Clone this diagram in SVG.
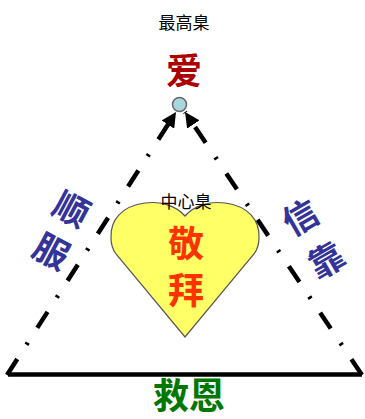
<svg xmlns="http://www.w3.org/2000/svg" width="365" height="419" viewBox="0 0 365 419">
  <style>
    .cjk { font-family: "Noto Sans CJK SC", "Noto Sans", sans-serif; text-anchor: middle; }
    .small { font-size: 17px; fill: #000000; }
    .big { font-size: 36px; font-weight: bold; }
    .side { font-size: 35px; font-weight: bold; fill: #333399; }
    .edge { fill: none; stroke: #000000; stroke-width: 4.5; stroke-dasharray: 19 17 2.5 17.5; }
  </style>
  <defs>
    <marker id="arrow" viewBox="0 0 10 10" refX="10" refY="5" markerWidth="15" markerHeight="15" markerUnits="userSpaceOnUse" orient="auto">
      <path d="M0,0 L10,5 L0,10 Z" fill="#000000"/>
    </marker>
  </defs>

  <g id="connectors">
    <path class="edge" d="M7,375 L176,112" marker-end="url(#arrow)"/>
    <path class="edge" d="M362,375 L185,112" marker-end="url(#arrow)"/>
    <line x1="8" y1="374.5" x2="362" y2="374.5" stroke="#000000" stroke-width="4.5"/>
  </g>

  <g id="apex">
    <circle cx="179.5" cy="104.5" r="7" fill="#A8D8DE" stroke="#666666" stroke-width="1.5"/>
    <text class="cjk small" x="184" y="29">最高臬</text>
    <text class="cjk big" x="184" y="84" fill="#AA0000">爱</text>
  </g>

  <g id="heart">
    <path d="M185,216 C175,205 160,201 145,203 C122,206 110,220 111,238 C111,245 113,250 116,254 L185,337 L254,254 C257,250 259,245 259,238 C260,220 248,206 225,203 C210,201 195,205 185,216 Z" fill="#FFFF66" stroke="#555555" stroke-width="1.2"/>
    <text class="cjk small" x="186" y="208">中心臬</text>
    <text class="cjk big" x="186" y="257" fill="#FF3300">敬</text>
    <text class="cjk big" x="186" y="304" fill="#FF3300">拜</text>
  </g>

  <g id="left-label">
    <text class="cjk side" transform="translate(71,210) rotate(28)" y="12">顺</text>
    <text class="cjk side" transform="translate(51,252) rotate(28)" y="12">服</text>
  </g>

  <g id="right-label">
    <text class="cjk side" transform="translate(301,218) rotate(-30)" y="12">信</text>
    <text class="cjk side" transform="translate(327,261) rotate(-30)" y="12">靠</text>
  </g>

  <g id="bottom-label">
    <text class="cjk big" x="189" y="409" fill="#007700">救恩</text>
  </g>
</svg>
